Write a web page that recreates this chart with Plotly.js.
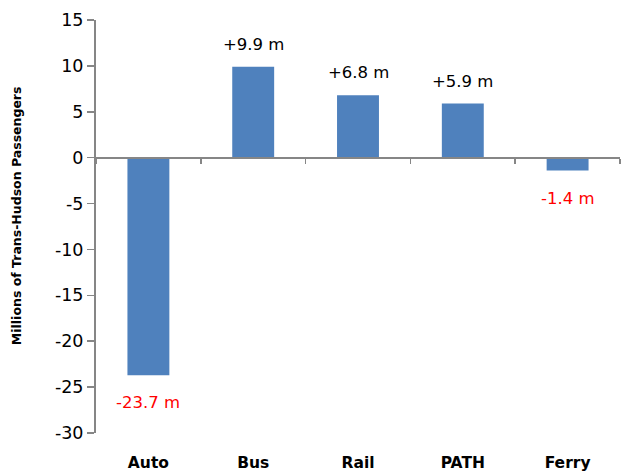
<!DOCTYPE html>
<html><head><meta charset="utf-8">
<script src="https://cdn.plot.ly/plotly-3.0.1.min.js"></script>
<style>html,body{margin:0;padding:0;background:#fff;}#chart{width:623px;height:474px;}</style>
</head><body><div id="chart"></div>
<script>
const categories = ["Auto", "Bus", "Rail", "PATH", "Ferry"];
const changes = [-23.7, 9.9, 6.8, 5.9, -1.4];
const labels = ["-23.7 m", "+9.9 m", "+6.8 m", "+5.9 m", "-1.4 m"];
const yTicks = [15, 10, 5, 0, -5, -10, -15, -20, -25, -30];
const yTitle = "Millions of Trans-Hudson Passengers";

const FONT = "'DejaVu Sans', 'Open Sans', sans-serif";
const AXIS = "#868686";

const traces = [
  {type: "bar", x: categories, y: changes, marker: {color: "#4F81BD"}, width: 0.4,
   hoverinfo: "skip", xaxis: "x", yaxis: "y"},
  {type: "scatter", mode: "markers", x: categories, y: changes, marker: {opacity: 0},
   hoverinfo: "skip", xaxis: "x2", yaxis: "y", showlegend: false}
];

const annotations = categories.map((c, i) => {
  const neg = changes[i] < 0;
  return {
    x: c, y: changes[i], xref: "x", yref: "y", text: labels[i], showarrow: false,
    yanchor: neg ? "top" : "bottom", yshift: neg ? -16 : 11,
    font: {family: FONT, size: 16.5, color: neg ? "#FF0000" : "#000000"}
  };
});
annotations.push({
  text: yTitle, xref: "paper", yref: "paper", x: 0, y: 0.525, xshift: -80,
  textangle: -90, showarrow: false, xanchor: "center", yanchor: "middle",
  font: {family: FONT, size: 12.5, color: "#000", weight: "bold"}
});

const layout = {
  width: 623, height: 474,
  margin: {l: 96, r: 3, t: 20, b: 41},
  paper_bgcolor: "#fff", plot_bgcolor: "#fff",
  showlegend: false, bargap: 0.6,
  xaxis: {
    type: "category", range: [-0.5, 4.5], showline: false, showgrid: false, zeroline: false,
    ticks: "", ticklabelstandoff: 18,
    tickfont: {family: FONT, size: 15.5, color: "#000", weight: "bold"}
  },
  xaxis2: {
    type: "category", overlaying: "x", anchor: "free", position: 2/3, side: "bottom",
    range: [-0.5, 4.5], showline: true, linecolor: AXIS, linewidth: 2,
    ticks: "outside", tickson: "boundaries", ticklen: 5, tickcolor: AXIS, tickwidth: 1.5,
    showticklabels: false, showgrid: false, zeroline: false
  },
  yaxis: {
    range: [-30, 15], tickvals: yTicks, ticktext: yTicks.map(String),
    showline: true, linecolor: AXIS, linewidth: 2, ticks: "outside", ticklen: 7,
    tickcolor: AXIS, tickwidth: 1.5, showgrid: false, zeroline: false,
    tickfont: {family: FONT, size: 17.5, color: "#000"}
  },
  annotations: annotations
};

Plotly.newPlot("chart", traces, layout, {displayModeBar: false, staticPlot: true});
</script>
</body></html>
